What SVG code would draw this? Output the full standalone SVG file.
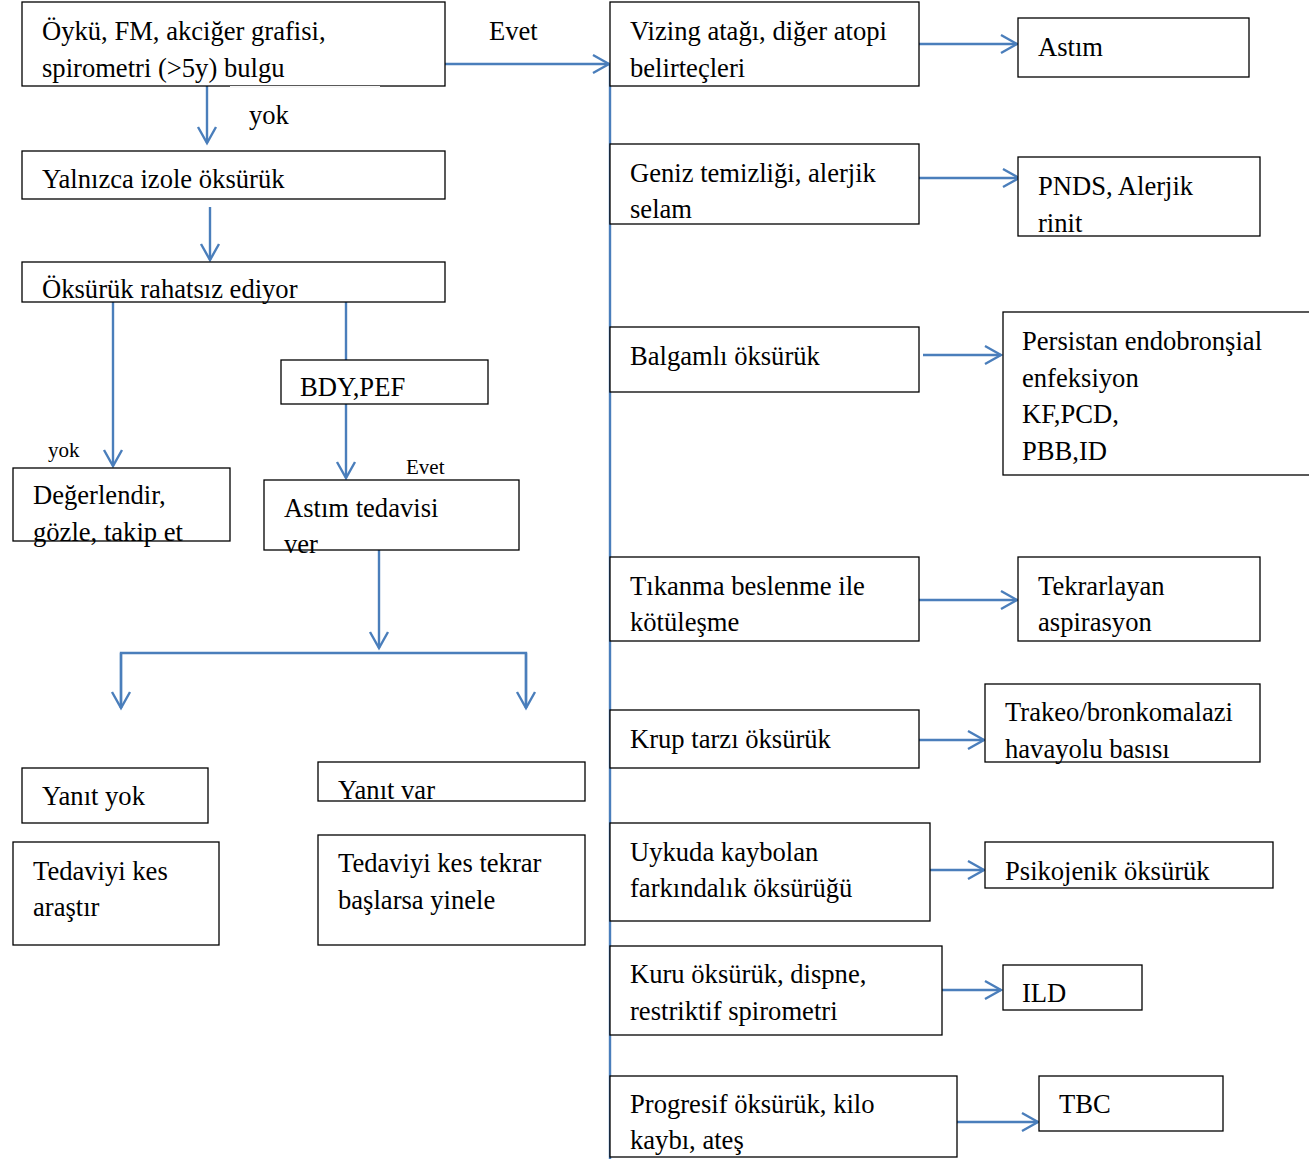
<svg xmlns="http://www.w3.org/2000/svg" width="1309" height="1159" viewBox="0 0 1309 1159">
  <defs>
    <style>
      .box { fill: #ffffff; stroke: #000000; stroke-width: 1.3; }
      .t { font-family: "Liberation Serif", "Times New Roman", serif; font-size: 26.6px; fill: #000000; }
      .s { font-family: "Liberation Serif", "Times New Roman", serif; font-size: 21px; fill: #000000; }
      .c { fill: none; stroke: #4A7EBB; stroke-width: 2.4; }
      .a { marker-end: url(#arr); }
    </style>
    <marker id="arr" markerUnits="userSpaceOnUse" markerWidth="22" markerHeight="22" viewBox="0 0 22 22" refX="19" refY="11" orient="auto">
      <path d="M3,2 L19,11 L3,20" fill="none" stroke="#4A7EBB" stroke-width="2.4"/>
    </marker>
  </defs>
  <rect width="1309" height="1159" fill="#ffffff"/>

  <!-- connectors -->
  <g id="connectors">
    <line class="c" x1="610" y1="64" x2="610" y2="1159"/>
    <line class="c a" x1="445" y1="64" x2="609" y2="64"/>
    <line class="c a" x1="207" y1="86" x2="207" y2="143"/>
    <line class="c a" x1="210" y1="207" x2="210" y2="260"/>
    <line class="c a" x1="113" y1="302" x2="113" y2="466"/>
    <line class="c" x1="346" y1="302" x2="346" y2="360"/>
    <line class="c a" x1="346" y1="404" x2="346" y2="478"/>
    <line class="c a" x1="379" y1="550" x2="379" y2="648"/>
    <polyline class="c" points="121,708 121,653 526,653 526,708"/>
    <line class="c a" x1="121" y1="653" x2="121" y2="708"/>
    <line class="c a" x1="526" y1="653" x2="526" y2="708"/>
    <line class="c a" x1="919" y1="44" x2="1017" y2="44"/>
    <line class="c a" x1="919" y1="178" x2="1019" y2="178"/>
    <line class="c a" x1="923" y1="355" x2="1001" y2="355"/>
    <line class="c a" x1="919" y1="600" x2="1017" y2="600"/>
    <line class="c a" x1="919" y1="740" x2="984" y2="740"/>
    <line class="c a" x1="930" y1="870" x2="984" y2="870"/>
    <line class="c a" x1="942" y1="990" x2="1001" y2="990"/>
    <line class="c a" x1="957" y1="1122" x2="1038" y2="1122"/>
  </g>

  <!-- left column -->
  <g id="n-oyku">
    <rect class="box" x="22" y="2" width="423" height="84"/>
    <text class="t" x="42" y="40">Öykü, FM, akciğer grafisi,</text>
    <text class="t" x="42" y="77">spirometri (&gt;5y) bulgu</text>
  </g>
  <g id="lbl-yok1">
    <rect x="230" y="86" width="150" height="14" fill="#ffffff"/>
    <line x1="230" y1="87" x2="380" y2="87" stroke="#eeeeee" stroke-width="1"/>
    <text class="t" x="249" y="124">yok</text>
  </g>
  <g id="lbl-evet1">
    <text class="t" x="489" y="40">Evet</text>
  </g>
  <g id="n-izole">
    <rect class="box" x="22" y="151" width="423" height="48"/>
    <text class="t" x="42" y="188">Yalnızca izole öksürük</text>
  </g>
  <g id="n-rahatsiz">
    <rect class="box" x="22" y="262" width="423" height="40"/>
    <text class="t" x="42" y="298">Öksürük rahatsız ediyor</text>
  </g>
  <g id="n-bdy">
    <rect class="box" x="281" y="360" width="207" height="44"/>
    <text class="t" x="300" y="396">BDY,PEF</text>
  </g>
  <g id="lbl-yok2">
    <text class="s" x="48" y="457">yok</text>
  </g>
  <g id="lbl-evet2">
    <text class="s" x="406" y="474">Evet</text>
  </g>
  <g id="n-degerlendir">
    <rect class="box" x="13" y="468" width="217" height="73"/>
    <text class="t" x="33" y="504">Değerlendir,</text>
    <text class="t" x="33" y="541">gözle, takip et</text>
  </g>
  <g id="n-astim-tedavi">
    <rect class="box" x="264" y="480" width="255" height="70"/>
    <text class="t" x="284" y="517">Astım tedavisi</text>
    <text class="t" x="284" y="553">ver</text>
  </g>
  <g id="n-yanit-yok">
    <rect class="box" x="22" y="768" width="186" height="55"/>
    <text class="t" x="42" y="805">Yanıt yok</text>
  </g>
  <g id="n-yanit-var">
    <rect class="box" x="318" y="762" width="267" height="39"/>
    <text class="t" x="338" y="799">Yanıt var</text>
  </g>
  <g id="n-kes-arastir">
    <rect class="box" x="13" y="842" width="206" height="103"/>
    <text class="t" x="33" y="880">Tedaviyi kes</text>
    <text class="t" x="33" y="916">araştır</text>
  </g>
  <g id="n-kes-yinele">
    <rect class="box" x="318" y="835" width="267" height="110"/>
    <text class="t" x="338" y="872">Tedaviyi kes tekrar</text>
    <text class="t" x="338" y="909">başlarsa yinele</text>
  </g>

  <!-- right column: findings -->
  <g id="n-vizing">
    <rect class="box" x="610" y="2" width="309" height="84"/>
    <text class="t" x="630" y="40">Vizing atağı, diğer atopi</text>
    <text class="t" x="630" y="77">belirteçleri</text>
  </g>
  <g id="n-geniz">
    <rect class="box" x="610" y="144" width="309" height="80"/>
    <text class="t" x="630" y="182">Geniz temizliği, alerjik</text>
    <text class="t" x="630" y="218">selam</text>
  </g>
  <g id="n-balgamli">
    <rect class="box" x="610" y="327" width="309" height="65"/>
    <text class="t" x="630" y="365">Balgamlı öksürük</text>
  </g>
  <g id="n-tikanma">
    <rect class="box" x="610" y="557" width="309" height="84"/>
    <text class="t" x="630" y="595">Tıkanma beslenme ile</text>
    <text class="t" x="630" y="631">kötüleşme</text>
  </g>
  <g id="n-krup">
    <rect class="box" x="610" y="710" width="309" height="58"/>
    <text class="t" x="630" y="748">Krup tarzı öksürük</text>
  </g>
  <g id="n-uykuda">
    <rect class="box" x="610" y="823" width="320" height="98"/>
    <text class="t" x="630" y="861">Uykuda kaybolan</text>
    <text class="t" x="630" y="897">farkındalık öksürüğü</text>
  </g>
  <g id="n-kuru">
    <rect class="box" x="610" y="946" width="332" height="89"/>
    <text class="t" x="630" y="983">Kuru öksürük, dispne,</text>
    <text class="t" x="630" y="1020">restriktif spirometri</text>
  </g>
  <g id="n-progresif">
    <rect class="box" x="610" y="1076" width="347" height="81"/>
    <text class="t" x="630" y="1113">Progresif öksürük, kilo</text>
    <text class="t" x="630" y="1149">kaybı, ateş</text>
  </g>

  <!-- right column: diagnoses -->
  <g id="n-astim">
    <rect class="box" x="1018" y="18" width="231" height="59"/>
    <text class="t" x="1038" y="56">Astım</text>
  </g>
  <g id="n-pnds">
    <rect class="box" x="1018" y="157" width="242" height="79"/>
    <text class="t" x="1038" y="195">PNDS, Alerjik</text>
    <text class="t" x="1038" y="232">rinit</text>
  </g>
  <g id="n-persistan">
    <rect class="box" x="1003" y="312" width="312" height="163"/>
    <text class="t" x="1022" y="350">Persistan endobronşial</text>
    <text class="t" x="1022" y="387">enfeksiyon</text>
    <text class="t" x="1022" y="423">KF,PCD,</text>
    <text class="t" x="1022" y="460">PBB,ID</text>
  </g>
  <g id="n-tekrarlayan">
    <rect class="box" x="1018" y="557" width="242" height="84"/>
    <text class="t" x="1038" y="595">Tekrarlayan</text>
    <text class="t" x="1038" y="631">aspirasyon</text>
  </g>
  <g id="n-trakeo">
    <rect class="box" x="985" y="684" width="275" height="78"/>
    <text class="t" x="1005" y="721">Trakeo/bronkomalazi</text>
    <text class="t" x="1005" y="758">havayolu basısı</text>
  </g>
  <g id="n-psikojenik">
    <rect class="box" x="985" y="842" width="288" height="46"/>
    <text class="t" x="1005" y="880">Psikojenik öksürük</text>
  </g>
  <g id="n-ild">
    <rect class="box" x="1003" y="965" width="139" height="45"/>
    <text class="t" x="1022" y="1002">ILD</text>
  </g>
  <g id="n-tbc">
    <rect class="box" x="1039" y="1076" width="184" height="55"/>
    <text class="t" x="1059" y="1113">TBC</text>
  </g>
</svg>
